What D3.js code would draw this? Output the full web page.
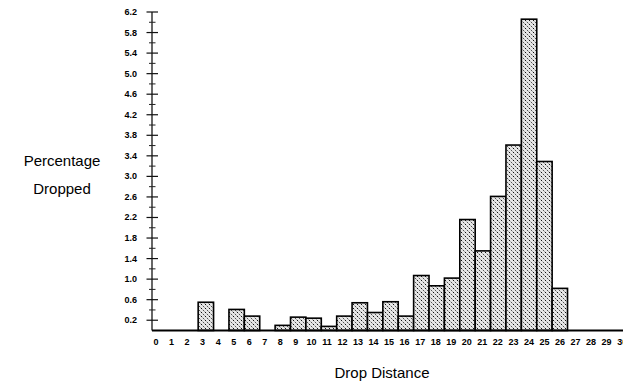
<!DOCTYPE html>
<html>
<head>
<meta charset="utf-8">
<script src="https://cdn.jsdelivr.net/npm/d3@7"></script>
<style>
  body { margin: 0; background: #fff; }
  svg { display: block; }
</style>
</head>
<body>
<div class="chartDiv"></div>
<script>
// drop distance categories and percentages
const distances = d3.range(0, 31);
const percents = [0, 0, 0, 0.55, 0, 0.41, 0.28, 0, 0.10, 0.26,
                  0.24, 0.08, 0.28, 0.54, 0.35, 0.56, 0.28, 1.07, 0.87, 1.02,
                  2.16, 1.55, 2.61, 3.61, 6.06, 3.29, 0.82, 0, 0, 0, 0];
const yMajorTicks = [0.2, 0.6, 1.0, 1.4, 1.8, 2.2, 2.6, 3.0, 3.4, 3.8, 4.2, 4.6, 5.0, 5.4, 5.8, 6.2];
const yMinorTicks = [0.4, 0.8, 1.2, 1.6, 2.0, 2.4, 2.8, 3.2, 3.6, 4.0, 4.4, 4.8, 5.2, 5.6, 6.0];

const chartWidth = 623;
const chartHeight = 387;

const axisX = 152;
const baseY = 330.5;
const topY = 12;

var chart_svg = d3.select('.chartDiv')
    .append('svg')
    .attr('width', chartWidth)
    .attr('height', chartHeight);

// stipple fill
const defs = chart_svg.append('defs');
const pat = defs.append('pattern')
    .attr('id', 'stipple')
    .attr('patternUnits', 'userSpaceOnUse')
    .attr('width', 4)
    .attr('height', 4);
pat.append('rect').attr('width', 4).attr('height', 4).attr('fill', '#e6e6e6');
pat.append('rect').attr('x', 1).attr('y', 0).attr('width', 1).attr('height', 1).attr('fill', '#111');
pat.append('rect').attr('x', 3).attr('y', 2).attr('width', 1).attr('height', 1).attr('fill', '#555');
pat.append('rect').attr('x', 0).attr('y', 3).attr('width', 1).attr('height', 1).attr('fill', '#aaa');
pat.append('rect').attr('x', 2).attr('y', 1).attr('width', 1).attr('height', 1).attr('fill', '#bbb');

const xScale = d3.scaleBand()
    .domain(distances)
    .range([axisX, axisX + 31 * 15.39])
    .padding(0);

// tick labels sit on a slightly tighter grid than the bars
const labelScale = d3.scaleLinear()
    .domain([0, 26])
    .range([156, 560]);

const yScale = d3.scaleLinear()
    .domain([0, 6.2])
    .range([baseY, topY]);

// bars
chart_svg.selectAll('rect.bar')
    .data(percents.map((v, i) => ({d: distances[i], v: v})).filter(p => p.v > 0))
    .enter()
    .append('rect')
    .attr('class', 'bar')
    .attr('x', p => xScale(p.d))
    .attr('y', p => yScale(p.v))
    .attr('width', xScale.bandwidth())
    .attr('height', p => yScale(0) - yScale(p.v))
    .attr('fill', 'url(#stipple)')
    .attr('stroke', '#000')
    .attr('stroke-width', 1.6);

// y axis line
chart_svg.append('line')
    .attr('x1', axisX).attr('x2', axisX)
    .attr('y1', yScale(6.2)).attr('y2', baseY)
    .attr('stroke', '#000')
    .attr('stroke-width', 1.2);

chart_svg.selectAll('line.major')
    .data(yMajorTicks)
    .enter()
    .append('line')
    .attr('class', 'major')
    .attr('x1', axisX - 5.5).attr('x2', axisX + 6)
    .attr('y1', d => yScale(d)).attr('y2', d => yScale(d))
    .attr('stroke', '#111')
    .attr('stroke-width', 1.2);

chart_svg.selectAll('line.minor')
    .data(yMinorTicks)
    .enter()
    .append('line')
    .attr('class', 'minor')
    .attr('x1', axisX - 3).attr('x2', axisX + 3.5)
    .attr('y1', d => yScale(d)).attr('y2', d => yScale(d))
    .attr('stroke', '#222')
    .attr('stroke-width', 1);

chart_svg.selectAll('text.ylab')
    .data(yMajorTicks)
    .enter()
    .append('text')
    .attr('class', 'ylab')
    .attr('x', 137)
    .attr('y', d => yScale(d) + 3)
    .attr('text-anchor', 'end')
    .style('font-family', 'Liberation Sans, Arial, sans-serif')
    .style('font-size', '9px')
    .style('font-weight', 'bold')
    .text(d => d.toFixed(1));

// x baseline
chart_svg.append('line')
    .attr('x1', axisX).attr('x2', chartWidth)
    .attr('y1', baseY).attr('y2', baseY)
    .attr('stroke', '#000')
    .attr('stroke-width', 1.8);

chart_svg.selectAll('text.xlab')
    .data(distances)
    .enter()
    .append('text')
    .attr('class', 'xlab')
    .attr('x', d => labelScale(d))
    .attr('y', 344.5)
    .attr('text-anchor', 'middle')
    .style('font-family', 'Liberation Sans, Arial, sans-serif')
    .style('font-size', '9px')
    .style('font-weight', 'bold')
    .text(d => d);

// axis titles
chart_svg.append('text')
    .attr('x', 62)
    .attr('y', 166)
    .attr('text-anchor', 'middle')
    .style('font-family', 'Liberation Sans, Arial, sans-serif')
    .style('font-size', '15px')
    .text('Percentage');

chart_svg.append('text')
    .attr('x', 62)
    .attr('y', 194)
    .attr('text-anchor', 'middle')
    .style('font-family', 'Liberation Sans, Arial, sans-serif')
    .style('font-size', '15px')
    .text('Dropped');

chart_svg.append('text')
    .attr('x', 382)
    .attr('y', 378)
    .attr('text-anchor', 'middle')
    .style('font-family', 'Liberation Sans, Arial, sans-serif')
    .style('font-size', '15px')
    .text('Drop Distance');
</script>
</body>
</html>
